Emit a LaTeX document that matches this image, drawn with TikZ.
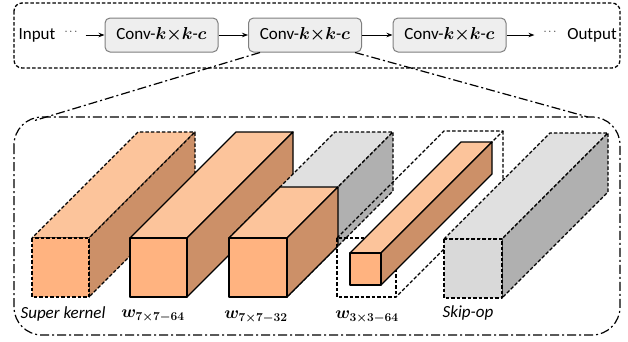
\documentclass[tikz,border=0pt]{standalone}
\usepackage{fontspec}
\setmainfont{Carlito}
\usepackage{bm}
\usetikzlibrary{arrows.meta}
\definecolor{orF}{HTML}{FFB380}
\definecolor{orT}{HTML}{FCC49B}
\definecolor{orS}{HTML}{CC9068}
\definecolor{grF}{HTML}{D9D9D9}
\definecolor{grT}{HTML}{E0E0E0}
\definecolor{grS}{HTML}{B0B0B0}
\definecolor{convfill}{HTML}{EEEEEE}
\definecolor{convline}{HTML}{7F7F7F}
\tikzset{
 conv/.style={draw=convline, fill=convfill, rounded corners=5pt, minimum width=113pt, minimum height=34pt, line width=1pt, inner sep=0pt, font=\fontsize{17}{19}\selectfont},
 lbl/.style={font=\fontsize{17}{19}\selectfont, inner sep=0pt},
 dotlbl/.style={font=\fontsize{11}{12}\selectfont, inner sep=0pt},
 arr/.style={-{Stealth[length=6pt,width=4.5pt]}, line width=0.9pt},
 dashbox/.style={dash pattern=on 3.5pt off 2pt, line width=1.3pt, rounded corners=8pt},
 dashdot/.style={dash pattern=on 9pt off 3pt on 2pt off 3pt, line width=1.2pt},
 solidedge/.style={draw=black, line width=1.3pt, line join=round},
 dashedge/.style={draw=black, line width=1.3pt, line join=round, dash pattern=on 3.5pt off 2pt},
}
% x y w h d edge front top side
\newcommand{\mycub}[9]{%
 \filldraw[#6, fill=#8] (#1,#2) -- ++(#3,0) -- ++(#5,-#5) -- ++(-#3,0) -- cycle;
 \filldraw[#6, fill=#9] (#1+#3,#2) -- ++(0,#4) -- ++(#5,-#5) -- ++(0,-#4) -- cycle;
 \filldraw[#6, fill=#7] (#1,#2) rectangle ++(#3,#4);
}
\begin{document}
\begin{tikzpicture}[x=1pt,y=-1pt]
\useasboundingbox (0,0) rectangle (628,341);
% top pipeline
\draw[dashbox] (14,3) rectangle (620,68);
\node[lbl] (in) at (37,35) {Input};
\node[dotlbl] (d1) at (71,32) {$\cdots$};
\node[conv] (c1) at (161.5,35) {Conv-$\bm{k{\times}k}$-$\bm{c}$};
\node[conv] (c2) at (305,35) {Conv-$\bm{k{\times}k}$-$\bm{c}$};
\node[conv] (c3) at (449.5,35) {Conv-$\bm{k{\times}k}$-$\bm{c}$};
\node[dotlbl] (d2) at (550,32) {$\cdots$};
\node[lbl] (out) at (592,35) {Output};
\draw[arr] ([xshift=8pt]d1.east |- c1.west) -- (c1.west);
\draw[arr] (c1.east) -- (c2.west);
\draw[arr] (c2.east) -- (c3.west);
\draw[arr] (c3.east) -- ([xshift=-9pt]d2.west |- c3.east);
% zoom lines
\coordinate (zl) at (33,121);
\coordinate (zr) at (588,117);
\draw[dashdot] ([xshift=12pt]c2.south west) -- (zl);
\draw[dashdot] ([xshift=-7pt]c2.south east) -- (zr);
\draw[dashdot, rounded corners=28pt] (14,117) rectangle (620,335);
% cuboids
\mycub{32}{238}{57}{59}{106}{dashedge}{orF}{orT}{orS}
\mycub{130}{238}{57}{59}{106}{solidedge}{orF}{orT}{orS}
\mycub{229}{238}{58}{59}{106}{dashedge}{grF}{grT}{grS}
\mycub{229}{238}{58}{59}{51}{solidedge}{orF}{orT}{orS}
% w3x3 frame
\draw[dashedge] (337,238) rectangle ++(59,59);
\draw[dashedge] (337,238) -- ++(107,-107) -- ++(59,0) -- ++(-107,107);
\draw[dashedge] (503,131) -- ++(0,59) -- (396,297);
\mycub{350}{253}{31}{32}{111}{solidedge}{orF}{orT}{orS}
\mycub{444}{239}{58}{59}{106}{dashedge}{grF}{grT}{grS}
% labels
\node[lbl, font=\fontsize{17}{19}\selectfont\itshape] (lsk) at (63,314) {Super kernel};
\node[lbl] (l1) at (153,316) {$\bm{w_{7\times7-64}}$};
\node[lbl] (l2) at (256,317) {$\bm{w_{7\times7-32}}$};
\node[lbl] (l3) at (367,317) {$\bm{w_{3\times3-64}}$};
\node[lbl, font=\fontsize{17}{19}\selectfont\itshape] (lskip) at (468,313) {Skip-op};
\end{tikzpicture}
\end{document}
